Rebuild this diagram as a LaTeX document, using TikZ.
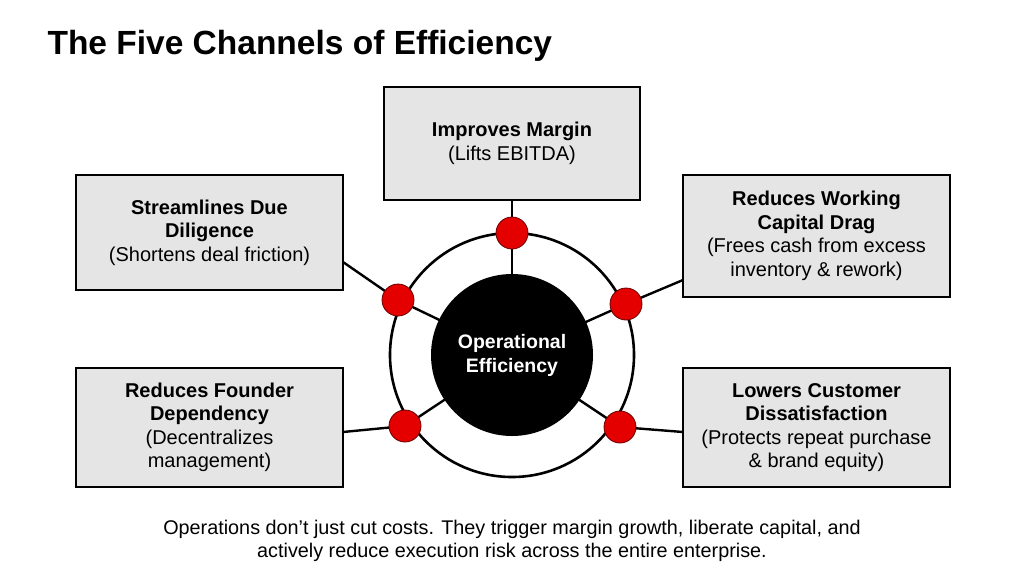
\documentclass[tikz,border=0pt]{standalone}
\usepackage{fontspec}
\setmainfont{Liberation Sans}
\begin{document}
\begin{tikzpicture}[x=1pt,y=-1pt,
  box/.style={draw=black,line width=1.6pt,fill=black!10,align=center,font=\fontsize{20}{23.5}\selectfont,inner sep=0pt},
  dot/.style={circle,fill=red!90!black,draw=black!60!red,line width=0.8pt,minimum size=32pt,inner sep=0pt},
  con/.style={line width=2.4pt}]
\useasboundingbox (0,0) rectangle (1024,571);
\node[anchor=west,font=\bfseries\fontsize{33.5}{38}\selectfont] (title) at (44,46) {The Five Channels of Efficiency};
\node[box,minimum width=256pt,minimum height=113pt] (b1) at (512,143.5) {\textbf{Improves Margin}\\(Lifts EBITDA)};
\node[box,minimum width=267pt,minimum height=115pt] (b2) at (209.5,232.5) {\textbf{Streamlines Due}\\\textbf{Diligence}\\(Shortens deal friction)};
\node[box,minimum width=267pt,minimum height=122pt] (b3) at (816.5,236) {\textbf{Reduces Working}\\\textbf{Capital Drag}\\(Frees cash from excess\\inventory \& rework)};
\node[box,minimum width=267pt,minimum height=119pt] (b4) at (209.5,427.5) {\textbf{Reduces Founder}\\\textbf{Dependency}\\(Decentralizes\\management)};
\node[box,minimum width=267pt,minimum height=119pt] (b5) at (816.5,427.5) {\textbf{Lowers Customer}\\\textbf{Dissatisfaction}\\(Protects repeat purchase\\\& brand equity)};
\coordinate (c) at (512,355);
\coordinate (a2) at (343,262);
\coordinate (a3) at (683,280);
\coordinate (a4) at (343,432);
\coordinate (a5) at (683,432);
\node[circle,draw=black,line width=2.6pt,minimum size=244pt,inner sep=0pt] (ring) at (c) {};
\coordinate (p1) at (512,233);
\coordinate (p2) at (398,300);
\coordinate (p3) at (626,304);
\coordinate (p4) at (405,426);
\coordinate (p5) at (620,427);
\draw[con] (b1.south) -- (p1) -- (c);
\draw[con] (a2) -- (p2) -- (c);
\draw[con] (a3) -- (p3) -- (c);
\draw[con] (a4) -- (p4) -- (c);
\draw[con] (a5) -- (p5) -- (c);
\node[circle,fill=black,minimum size=162pt,inner sep=0pt,text=white,align=center,font=\bfseries\fontsize{19.5}{24}\selectfont] (core) at (c) {Operational\\Efficiency};
\node[dot] (d1) at (p1) {};
\node[dot] (d2) at (p2) {};
\node[dot] (d3) at (p3) {};
\node[dot] (d4) at (p4) {};
\node[dot] (d5) at (p5) {};
\node[align=center,font=\fontsize{19.8}{23}\selectfont] (foot) at (512,541) {Operations don’t just cut costs. They trigger margin growth, liberate capital, and\\actively reduce execution risk across the entire enterprise.};
\end{tikzpicture}
\end{document}
